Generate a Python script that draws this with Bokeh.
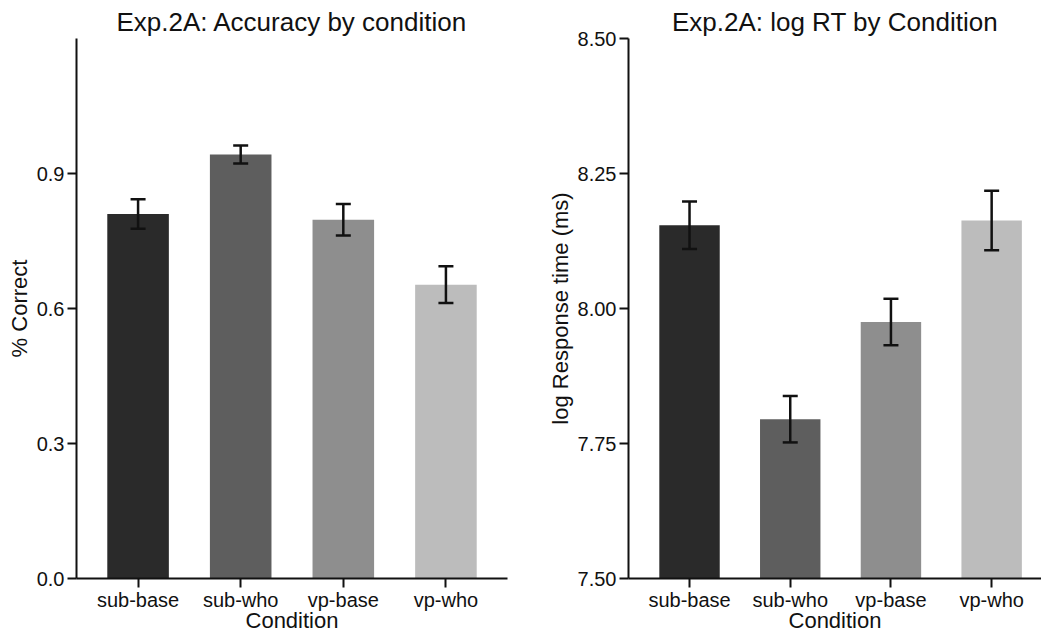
from bokeh.plotting import figure
from bokeh.models import ColumnDataSource, Whisker, TeeHead, FixedTicker, Range1d
from bokeh.layouts import row
from bokeh.embed import file_html
from bokeh.resources import INLINE

# ---- data ----
conditions = ["sub-base", "sub-who", "vp-base", "vp-who"]
positions = [1, 2, 3, 4]
acc_mean = [0.810, 0.942, 0.797, 0.653]
acc_err = [0.033, 0.020, 0.035, 0.041]
logrt_mean = [8.154, 7.795, 7.975, 8.163]
logrt_err = [0.044, 0.043, 0.043, 0.055]
acc_ticks = [0.0, 0.3, 0.6, 0.9]
acc_tick_labels = ["0.0", "0.3", "0.6", "0.9"]
rt_ticks = [7.50, 7.75, 8.00, 8.25, 8.50]
rt_tick_labels = ["7.50", "7.75", "8.00", "8.25", "8.50"]
bar_colors = ["#2a2a2a", "#5e5e5e", "#8e8e8e", "#bcbcbc"]

FONT = "Liberation Sans"
INK = "#111111"


def make_panel(title, ylabel, means, errs, base, y_range, yticks, ylabels,
               width, x_range, min_left, min_right):
    p = figure(width=width, height=635, x_range=x_range, y_range=y_range,
               output_backend="svg", toolbar_location=None, title=title,
               min_border_left=min_left, min_border_right=min_right,
               min_border_top=38, min_border_bottom=54)
    p.title.align = "center"
    p.title.text_font = FONT
    p.title.text_font_size = "26px"
    p.title.text_font_style = "normal"
    p.title.text_color = INK
    p.title.standoff = 4
    p.title.vertical_align = "bottom"
    p.outline_line_color = None
    p.grid.visible = False

    src = ColumnDataSource(dict(
        x=positions, top=means, color=bar_colors,
        upper=[m + e for m, e in zip(means, errs)],
        lower=[m - e for m, e in zip(means, errs)],
    ))
    p.vbar(x="x", top="top", bottom=base, width=0.6, fill_color="color",
           line_color=None, source=src)
    w = Whisker(base="x", upper="upper", lower="lower", source=src,
                line_width=2.5, line_color=INK, level="overlay",
                upper_head=TeeHead(size=15, line_width=2.5, line_color=INK),
                lower_head=TeeHead(size=15, line_width=2.5, line_color=INK))
    p.add_layout(w)

    p.xaxis.ticker = FixedTicker(ticks=positions)
    p.xaxis.major_label_overrides = {pos: c for pos, c in zip(positions, conditions)}
    p.xaxis.axis_label = "Condition"
    p.yaxis.ticker = FixedTicker(ticks=yticks)
    p.yaxis.major_label_overrides = {t: l for t, l in zip(yticks, ylabels)}
    p.yaxis.axis_label = ylabel
    for ax in (p.xaxis, p.yaxis):
        ax.axis_line_width = 2
        ax.axis_line_color = INK
        ax.major_tick_line_width = 2
        ax.major_tick_line_color = INK
        ax.major_tick_out = 9
        ax.major_tick_in = 0
        ax.minor_tick_line_color = None
        ax.major_label_text_font = FONT
        ax.major_label_text_font_size = "20px"
        ax.major_label_text_color = INK
        ax.axis_label_text_font = FONT
        ax.axis_label_text_font_size = "22px"
        ax.axis_label_text_font_style = "normal"
        ax.axis_label_text_color = INK
        ax.major_label_standoff = 3
        ax.axis_label_standoff = 2
    p.xaxis.major_label_standoff = 1
    p.xaxis.axis_label_standoff = -6
    return p


p1 = make_panel("Exp.2A: Accuracy by condition", "% Correct", acc_mean, acc_err, 0,
                Range1d(0, 1.2), acc_ticks, acc_tick_labels,
                540, Range1d(0.4, 4.6), 76, 33)
p2 = make_panel("Exp.2A: log RT by Condition", "log Response time (ms)", logrt_mean,
                logrt_err, 7.5, Range1d(7.5, 8.5), rt_ticks, rt_tick_labels,
                501, Range1d(0.394, 4.495), 88, 0)

layout = row(p1, p2)
open("out.html", "w").write(file_html(layout, INLINE))
